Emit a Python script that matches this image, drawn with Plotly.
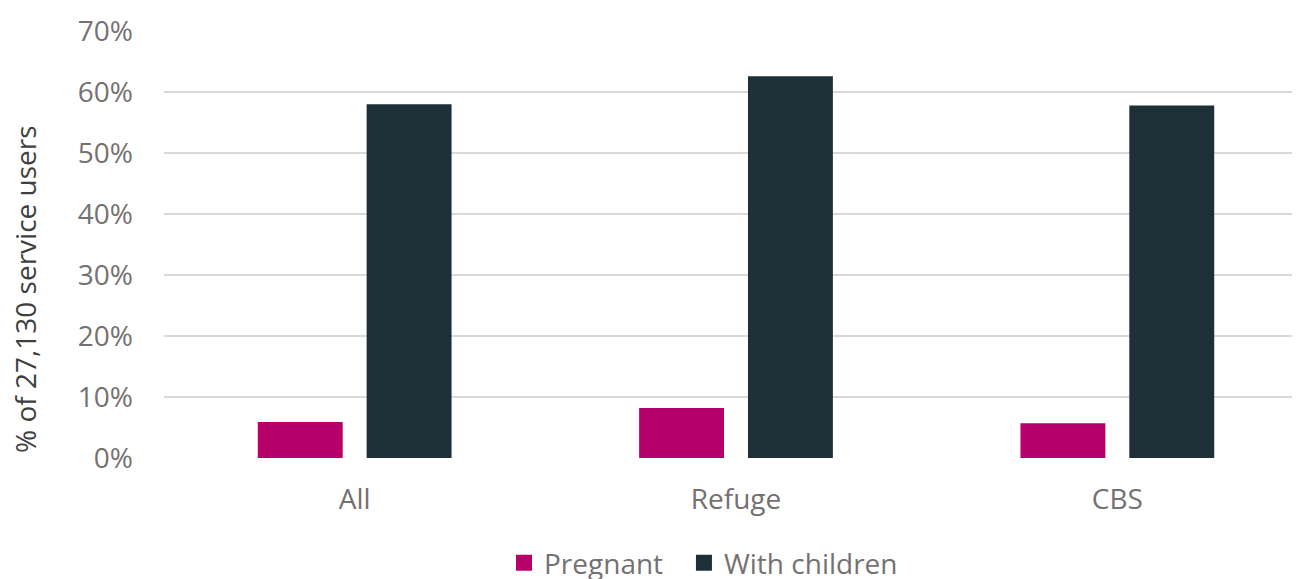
import plotly.graph_objects as go

categories = ["All", "Refuge", "CBS"]
pregnant = [0.059, 0.082, 0.057]
with_children = [0.580, 0.626, 0.578]
y_ticks = [0, 0.1, 0.2, 0.3, 0.4, 0.5, 0.6, 0.7]
y_tick_labels = ["0%", "10%", "20%", "30%", "40%", "50%", "60%", "70%"]
y_title = "% of 27,130 service users"

FONT = "Open Sans"
PINK = "#B8006B"
DARK = "#1D2F37"
GREY = "#767171"

fig = go.Figure()
fig.add_trace(go.Bar(name="Pregnant", x=categories, y=pregnant, showlegend=False,
                     marker=dict(color=PINK, line=dict(width=0))))
fig.add_trace(go.Bar(name="With children", x=categories, y=with_children, showlegend=False,
                     marker=dict(color=DARK, line=dict(width=0))))
# legend entries with larger square symbols, one legend each for exact placement
fig.add_trace(go.Scatter(name="Pregnant", x=[None], y=[None], mode="markers",
                         legend="legend",
                         marker=dict(symbol="square", size=18, color=PINK)))
fig.add_trace(go.Scatter(name="With children", x=[None], y=[None], mode="markers",
                         legend="legend2",
                         marker=dict(symbol="square", size=18, color=DARK)))

fig.add_annotation(text=y_title, xref="paper", yref="paper", x=-0.1215, y=0.396,
                   xanchor="center", yanchor="middle", textangle=-90, showarrow=False,
                   font=dict(family=FONT, size=28, color="#404040"))

legend_common = dict(orientation="h", xref="paper", xanchor="left",
                     y=-0.246, yanchor="middle", bgcolor="rgba(0,0,0,0)",
                     font=dict(family=FONT, size=28, color=GREY))

fig.update_layout(
    width=1300, height=579,
    margin=dict(l=156, r=0, t=23, b=129, autoexpand=False),
    paper_bgcolor="white", plot_bgcolor="white",
    barmode="group", bargap=0.429, bargroupgap=0.22,
    font=dict(family=FONT, size=28, color=GREY),
    showlegend=True,
    legend=dict(x=0.2972, **legend_common),
    legend2=dict(x=0.4545, **legend_common),
    xaxis=dict(range=[-0.5, 2.5], showgrid=False, zeroline=False,
               showline=False, ticks="", ticklabelstandoff=22,
               tickfont=dict(size=28, color=GREY)),
    yaxis=dict(range=[0, 0.7], tickvals=y_ticks, ticktext=y_tick_labels,
               showgrid=True, gridcolor="#D9D9D9", gridwidth=2,
               zeroline=False, showline=False, ticks="", ticklabelstandoff=30,
               tickfont=dict(size=28, color=GREY)),
)
fig.write_html("out.html")
